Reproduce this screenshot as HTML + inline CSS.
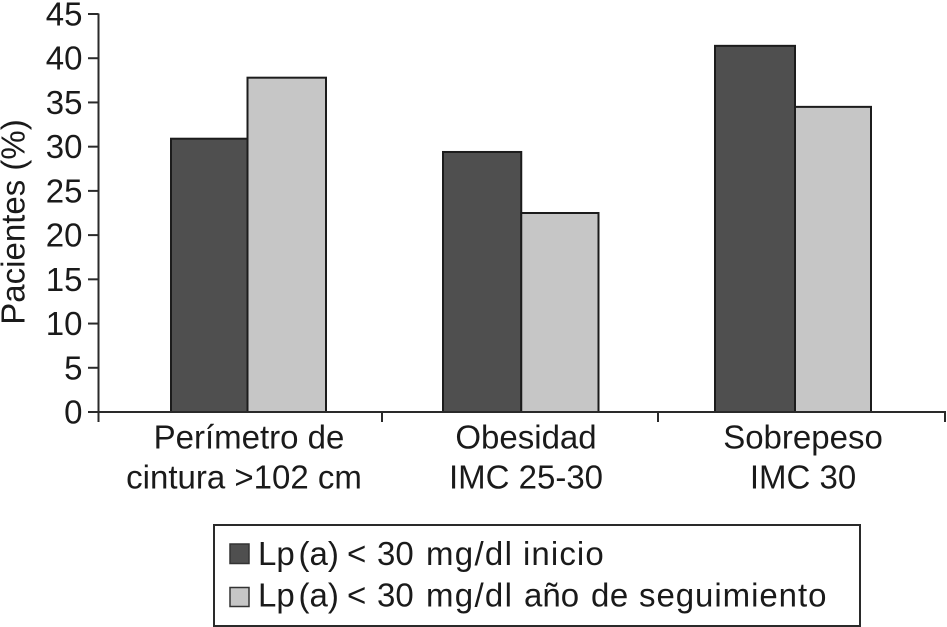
<!DOCTYPE html>
<html lang="es">
<head>
<meta charset="utf-8">
<title>Pacientes (%)</title>
<style>
html,body{margin:0;padding:0;background:#fff;width:947px;height:627px;overflow:hidden}
svg{display:block}
text{font-family:"Liberation Sans",sans-serif;fill:#1a1a1a}
</style>
</head>
<body>
<svg id="chart" xmlns="http://www.w3.org/2000/svg" width="947" height="627" viewBox="0 0 947 627">
  <g>
    <rect x="214" y="525" width="646" height="101" fill="#fff" stroke="#2a2a2a" stroke-width="2"/>
    <rect x="230" y="544" width="19" height="19.5" fill="#4f4f4f" stroke="#333" stroke-width="1.5"/>
    <rect x="230" y="587.5" width="19" height="19" fill="#c6c6c6" stroke="#333" stroke-width="1.5"/>
    <text y="565" font-size="33"><tspan x="258">Lp</tspan><tspan x="298.5">(a) </tspan><tspan x="347">&lt; </tspan><tspan x="377">30 </tspan><tspan x="426" letter-spacing="1.3">mg/dl </tspan><tspan x="523" letter-spacing="1.1">inicio</tspan></text>
    <text y="606.5" font-size="33"><tspan x="258">Lp</tspan><tspan x="298.5">(a) </tspan><tspan x="347">&lt; </tspan><tspan x="377">30 </tspan><tspan x="426" letter-spacing="1.3">mg/dl </tspan><tspan x="524">año </tspan><tspan x="591" letter-spacing="0.5">de </tspan><tspan x="639" letter-spacing="0.95">seguimiento</tspan></text>
  </g>
</svg>
<script>
const categoryLines = [["Perímetro de", "cintura >102 cm"], ["Obesidad", "IMC 25-30"], ["Sobrepeso", "IMC 30"]];
const seriesInicio = [30.9, 29.4, 41.4];
const seriesSeguimiento = [37.8, 22.5, 34.5];
const yTicks = [0, 5, 10, 15, 20, 25, 30, 35, 40, 45];

const NS = "http://www.w3.org/2000/svg";
const svg = document.getElementById("chart");
const DARK = "#4f4f4f", LIGHT = "#c6c6c6", INK = "#1c1c1c";

function yScale(v) { return 412 - (v / 45) * 398; }
function barLeft(i) { return 171 + i * 272; }
function barDivider(i) { return 247.5 + i * 273.75; }
function barRight(i) { return 326 + i * 272.5; }
function boundaryX(i) { return [98.5, 382, 658, 945][i]; }
function labelCenter(i, j) { return 249 + i * 277 - (i === 0 && j === 1 ? 5 : 0); }

function add(tag, attrs, parent) {
  const el = document.createElementNS(NS, tag);
  for (const k in attrs) el.setAttribute(k, attrs[k]);
  (parent || svg).appendChild(el);
  return el;
}

const barsGroup = add("g", {});


categoryLines.forEach(function (_, i) {
  const a = add("rect", {x: barLeft(i), y: yScale(seriesInicio[i]), width: barDivider(i) - barLeft(i), height: 412 - yScale(seriesInicio[i]), fill: DARK, stroke: INK, "stroke-width": 2}, barsGroup);
  
  
  const b = add("rect", {x: barDivider(i), y: yScale(seriesSeguimiento[i]), width: barRight(i) - barDivider(i), height: 412 - yScale(seriesSeguimiento[i]), fill: LIGHT, stroke: INK, "stroke-width": 2}, barsGroup);
  
  
});

const yAxis = add("line", {x1: 98.5, y1: 13.5, x2: 98.5, y2: 412, stroke: "#2a2a2a", "stroke-width": 2});


const xAxis = add("line", {x1: 98, y1: 412, x2: 946, y2: 412, stroke: "#2a2a2a", "stroke-width": 2});



yTicks.forEach(function (t) {
  const y = yScale(t);
  const tick = add("line", {x1: 88, y1: y, x2: 98.5, y2: y, stroke: "#2a2a2a", "stroke-width": 2});
  
  
  const label = add("text", {x: 82.5, y: y + 11.5, "text-anchor": "end", "font-size": 33});
  label.textContent = t;
  
  
});

[0, 1, 2, 3].forEach(function (i) {
  const x = boundaryX(i);
  const tick = add("line", {x1: x, y1: 412, x2: x, y2: 422, stroke: "#2a2a2a", "stroke-width": 2});
  
  
});

categoryLines.forEach(function (lines, i) {
  lines.forEach(function (line, j) {
    const label = add("text", {x: labelCenter(i, j), y: 448.5 + j * 40, "text-anchor": "middle", "font-size": 33});
    label.textContent = line;
    
    
  });
});

const yTitle = add("text", {transform: "translate(24.5 222) rotate(-90)", "text-anchor": "middle", "font-size": 33});
yTitle.textContent = "Pacientes (%)";


</script>
</body>
</html>
